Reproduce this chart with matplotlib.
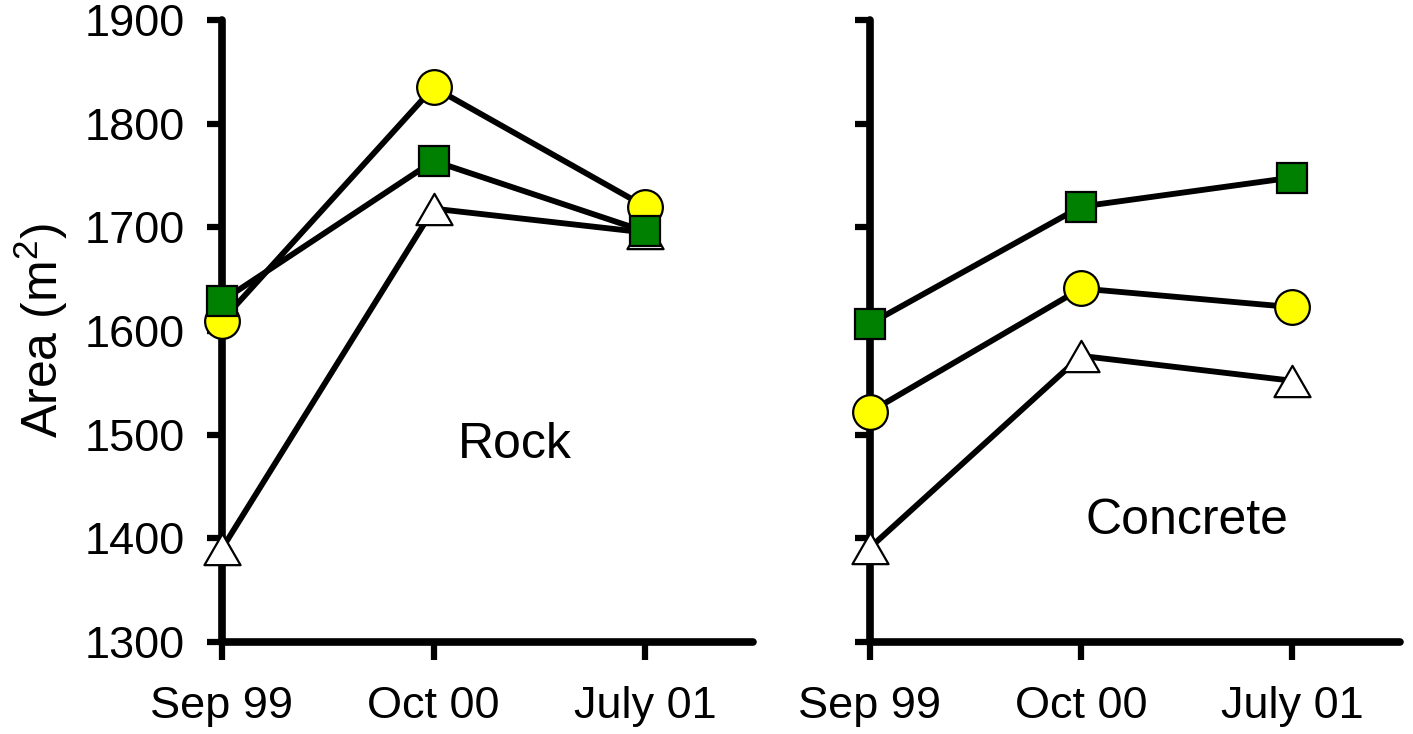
import matplotlib
matplotlib.use("Agg")
import matplotlib.pyplot as plt
from matplotlib.path import Path

plt.rcParams['font.family'] = ['Liberation Sans', 'DejaVu Sans']
plt.rcParams['mathtext.fontset'] = 'custom'
plt.rcParams['mathtext.rm'] = 'Liberation Sans'

dates = ['Sep 99', 'Oct 00', 'July 01']

# Rock site
rock_circle = [1610, 1835, 1720]
rock_square = [1629, 1764, 1696]
rock_triangle = [1390, 1718, 1695]

# Concrete site
conc_circle = [1522, 1641, 1623]
conc_square = [1607, 1720, 1748]
conc_triangle = [1391, 1576, 1552]

# equilateral triangle, centred on its bounding box
tri = Path([(0, 0.5), (-0.577, -0.5), (0.577, -0.5), (0, 0.5)], closed=True)

fig = plt.figure(figsize=(14.13, 7.34), dpi=100)
ax1 = fig.add_axes([0.1571, 0.1253, 0.3759, 0.8475])
ax2 = fig.add_axes([0.6157, 0.1253, 0.3751, 0.8475])

LW = 4.2
def draw(ax, tri_y, circ_y, sq_y):
    x = range(len(dates))
    ax.plot(x, tri_y, color='black', lw=LW, marker=tri, ms=26, mfc='white',
            mec='black', mew=1.6, clip_on=False, zorder=3)
    ax.plot(x, circ_y, color='black', lw=LW, marker='o', ms=25, mfc='#FFFF00',
            mec='black', mew=1.6, clip_on=False, zorder=4)
    ax.plot(x, sq_y, color='black', lw=LW, marker='s', ms=22, mfc='#008000',
            mec='black', mew=1.6, clip_on=False, zorder=5)
    ax.set_xlim(0, 2.51)
    ax.set_ylim(1300, 1900)
    ax.set_yticks(range(1300, 2000, 100))
    ax.set_xticks(list(x))
    ax.set_xticklabels(dates)
    for s in ['top', 'right']:
        ax.spines[s].set_visible(False)
    for s in ['left', 'bottom']:
        ax.spines[s].set_linewidth(5.5)
        ax.spines[s].set_capstyle('round')
    ax.tick_params(axis='both', direction='out', width=4.5, labelsize=32.5)
    ax.tick_params(axis='y', length=11, pad=16)
    ax.tick_params(axis='x', length=13, pad=19)

draw(ax1, rock_triangle, rock_circle, rock_square)
draw(ax2, conc_triangle, conc_circle, conc_square)

ax2.set_yticklabels([])
ax1.set_ylabel('Area (m$^2$)', fontsize=36, labelpad=10)

ax1.text(1.385, 1490, 'Rock', fontsize=36, ha='center', va='center')
ax2.text(1.5, 1417, 'Concrete', fontsize=36, ha='center', va='center')

fig.savefig('out.png', dpi=100)
